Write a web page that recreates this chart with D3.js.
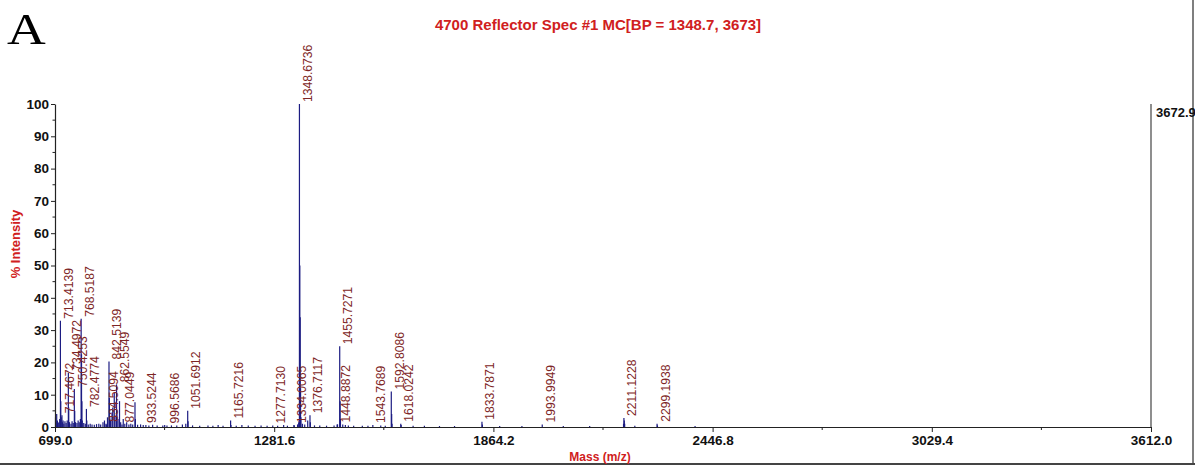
<!DOCTYPE html>
<html>
<head>
<meta charset="utf-8">
<script src="https://cdn.jsdelivr.net/npm/d3@7"></script>
<style>
  html, body { margin: 0; padding: 0; background: #fff; }
  svg { display: block; font-family: Arial, "Liberation Sans", sans-serif; }
</style>
</head>
<body>
<svg id="chart" width="1195" height="468"></svg>
<script>
// Axis ticks
const xTickValues = [699.0, 1281.6, 1864.2, 2446.8, 3029.4, 3612.0];
const yTickValues = [0, 10, 20, 30, 40, 50, 60, 70, 80, 90, 100];

// Annotated peaks (m/z and % intensity)
const labeledMass = [713.4139, 717.4672, 734.4972, 750.4253, 768.5187, 782.4774, 834.5094, 842.5139,
  862.5549, 877.0449, 933.5244, 996.5686, 1051.6912, 1165.7216, 1277.7130, 1334.0065, 1348.6736,
  1376.7117, 1448.8872, 1455.7271, 1543.7689, 1592.8086, 1618.0242, 1833.7871, 1993.9949, 2211.1228, 2299.1938];
const labeledIntensity = [32.9, 3.6, 16.8, 11.8, 33.5, 5.6, 1.0, 20.3,
  13.2, 0.8, 0.6, 0.5, 5.0, 2.0, 0.5, 0.6, 100,
  3.6, 0.8, 25.0, 0.6, 11.0, 1.0, 1.6, 0.8, 2.8, 1.0];

// Unannotated peaks: isotopes and minor signals
const minorMass = [700.4, 701.4, 703.5, 705.4, 707.5, 709.4, 711.5, 714.4, 715.4, 718.5, 720.4, 722.5,
  725.4, 728.5, 731.4, 735.5, 737.4, 741.5, 744.4, 747.5, 751.4, 753.5, 757.4, 760.5, 763.4, 766.5,
  769.5, 770.5, 771.5, 775.4, 779.5, 783.5, 787.4, 792.5, 797.4, 803.5, 809.4, 815.5, 820.4, 826.5,
  830.5, 835.5, 838.5, 843.5, 844.5, 846.5, 850.5, 852.5, 856.5, 858.5, 863.5, 866.5, 870.5, 873.5,
  880.4, 884.5, 889.5, 895.4, 900.5, 905.5, 911.6, 912.6, 918.5, 926.5, 940.5, 948.5, 958.5, 970.5,
  985.5, 990.5, 1008.5, 1022.6, 1037.6, 1046.6, 1052.7, 1064.6, 1083.6, 1105.6, 1118.6, 1132.6,
  1145.6, 1166.7, 1180.7, 1195.7, 1212.7, 1230.7, 1246.7, 1262.7, 1290.7, 1306.7, 1316.7, 1335.0,
  1343.7, 1346.7, 1349.6736, 1350.6736, 1351.6736, 1352.6736, 1356.7, 1362.7, 1370.7, 1377.7,
  1388.7, 1402.7, 1420.7, 1440.7, 1449.9, 1456.7, 1457.7, 1463.8, 1470.7, 1478.7, 1492.8, 1515.8,
  1530.8, 1564.8, 1576.8, 1593.8, 1594.8, 1619.0, 1650.8, 1680.8, 1720.9, 1760.9, 1834.8, 1880.9,
  1940.0, 2050.0, 2120.1, 2210.1, 2212.1, 2213.1, 2240.1, 2300.2, 2400.2];
const minorIntensity = [3.0, 1.5, 4.0, 2.0, 1.2, 1.5, 2.5, 8.0, 3.0, 1.5, 2.0, 1.0,
  1.8, 1.2, 2.0, 6.0, 1.5, 1.0, 1.8, 1.2, 5.0, 1.5, 1.2, 2.0, 1.5, 2.5,
  22.5, 8.0, 2.0, 1.2, 1.0, 2.0, 0.8, 1.0, 0.8, 0.7, 0.9, 1.0, 0.8, 1.5,
  2.0, 0.8, 3.0, 9.0, 3.0, 2.0, 4.5, 6.0, 10.5, 3.5, 5.0, 2.5, 8.0, 1.5,
  2.5, 1.0, 1.5, 0.8, 1.0, 0.8, 7.7, 2.5, 0.7, 0.8, 0.6, 0.5, 0.7, 0.5,
  0.5, 0.6, 0.5, 0.5, 0.8, 1.0, 1.8, 0.5, 0.4, 0.5, 0.4, 0.6,
  0.4, 0.6, 0.4, 0.6, 0.5, 0.4, 0.5, 0.4, 0.4, 0.6, 0.4, 0.5,
  0.8, 1.5, 50.0, 34.0, 12.0, 3.0, 1.0, 0.8, 2.0, 1.5,
  0.5, 0.5, 0.4, 0.5, 0.8, 8.0, 2.5, 0.8, 0.6, 0.5, 0.4, 0.4,
  0.4, 0.5, 0.4, 4.0, 1.0, 0.6, 0.4, 0.4, 0.3, 0.3, 0.8, 0.3,
  0.3, 0.3, 0.3, 1.0, 2.0, 1.0, 0.4, 0.5, 0.3];

const titleText = "4700 Reflector Spec #1 MC[BP = 1348.7, 3673]";
const maxCountsText = "3672.9";

const svg = d3.select("#chart");

const x = d3.scaleLinear().domain([699.0, 3612.0]).range([55, 1151]);
const y = d3.scaleLinear().domain([0, 100]).range([427, 104]);

const peakColor = "#1c1c82";
const labelColor = "#7e2626";
const titleRed = "#d02020";

// Panel letter
svg.append("text").attr("transform", "translate(7,44) scale(1.22,1)")
  .attr("font-family", "'Liberation Serif', 'Times New Roman', serif")
  .attr("font-size", 44).attr("fill", "#000").text("A");

// Title
svg.append("text").attr("x", 598).attr("y", 30).attr("text-anchor", "middle")
  .attr("font-size", 15).attr("font-weight", "bold").attr("fill", titleRed).text(titleText);

// Frame lines
svg.append("line").attr("x1", 1193).attr("x2", 1193).attr("y1", 0).attr("y2", 464)
  .attr("stroke", "#555").attr("stroke-width", 1.5);
svg.append("line").attr("x1", 0).attr("x2", 1195).attr("y1", 464).attr("y2", 464)
  .attr("stroke", "#444").attr("stroke-width", 2);

// Minor peaks
const minor = minorMass.map((m, i) => ({ m, v: minorIntensity[i] }));
svg.append("g").selectAll("line").data(minor).join("line")
  .attr("x1", d => x(d.m)).attr("x2", d => x(d.m))
  .attr("y1", y(0)).attr("y2", d => y(d.v))
  .attr("stroke", peakColor).attr("stroke-width", 1.2);

// Annotated peaks
const labeled = labeledMass.map((m, i) => ({ m, v: labeledIntensity[i] }));
svg.append("g").selectAll("line").data(labeled).join("line")
  .attr("x1", d => x(d.m)).attr("x2", d => x(d.m))
  .attr("y1", y(0)).attr("y2", d => y(d.v))
  .attr("stroke", peakColor).attr("stroke-width", 1.2);

// Peak labels, vertical, reading upward
svg.append("g").selectAll("text").data(labeled).join("text")
  .attr("transform", d => `translate(${x(d.m) + 12.5},${y(d.v) - 2}) rotate(-90) scale(0.9,1)`)
  .attr("font-size", 13.5).attr("fill", labelColor)
  .text(d => d.m.toFixed(4));

// X axis
const xAxis = d3.axisBottom(x).tickValues(xTickValues).tickFormat(d3.format(".1f"))
  .tickSize(5).tickSizeOuter(0).tickPadding(2);
const gx = svg.append("g").attr("transform", `translate(0,${y(0)})`).call(xAxis);
gx.select(".domain").attr("stroke", "#222").attr("stroke-width", 1.2);
gx.selectAll(".tick line").attr("stroke", "#222");
gx.selectAll(".tick text").attr("font-size", 13.5).attr("font-weight", "bold")
  .attr("font-family", "Arial, 'Liberation Sans', sans-serif").attr("fill", "#111").attr("dy", "0.8em");
const xMinor = d3.pairs(xTickValues).map(p => (p[0] + p[1]) / 2);
svg.append("g").selectAll("line").data(xMinor).join("line")
  .attr("x1", d => x(d)).attr("x2", d => x(d))
  .attr("y1", y(0)).attr("y2", y(0) + 3).attr("stroke", "#222");

// Y axis
const yAxis = d3.axisLeft(y).tickValues(yTickValues).tickSize(4).tickSizeOuter(0).tickPadding(2);
const gy = svg.append("g").attr("transform", `translate(${x(699)},0)`).call(yAxis);
gy.select(".domain").attr("stroke", "#222").attr("stroke-width", 1.2);
gy.selectAll(".tick line").attr("stroke", "#222");
gy.selectAll(".tick text").attr("font-size", 13.5).attr("font-weight", "bold")
  .attr("font-family", "Arial, 'Liberation Sans', sans-serif").attr("fill", "#111");
const yMinor = d3.range(5, 100, 10);
gy.append("g").selectAll("line").data(yMinor).join("line")
  .attr("x1", -2.5).attr("x2", 0).attr("y1", d => y(d)).attr("y2", d => y(d)).attr("stroke", "#222");

// Right-hand counts marker
svg.append("line").attr("x1", x(3612)).attr("x2", x(3612)).attr("y1", y(100)).attr("y2", y(0))
  .attr("stroke", "#444").attr("stroke-width", 1.2);
svg.append("text").attr("x", x(3612) + 5).attr("y", y(100) + 13)
  .attr("font-size", 13).attr("font-weight", "bold").attr("fill", "#111").text(maxCountsText);

// Axis titles
svg.append("text").attr("transform", `translate(20,244) rotate(-90)`).attr("text-anchor", "middle")
  .attr("font-size", 13).attr("font-weight", "bold").attr("fill", titleRed).text("% Intensity");
svg.append("text").attr("x", 600).attr("y", 461).attr("text-anchor", "middle")
  .attr("font-size", 12).attr("font-weight", "bold").attr("fill", titleRed).text("Mass (m/z)");
</script>
</body>
</html>
